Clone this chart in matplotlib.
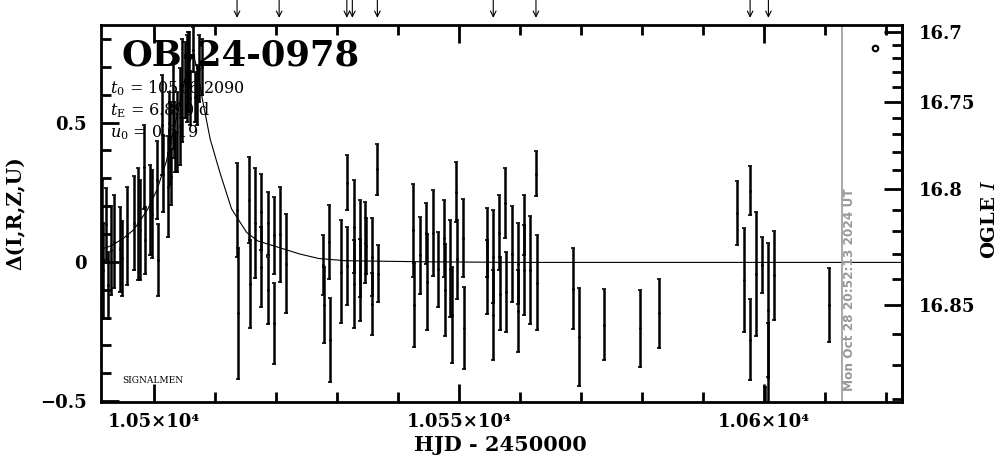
import numpy as np
import matplotlib
matplotlib.use("Agg")
import matplotlib.pyplot as plt
from matplotlib.ticker import MultipleLocator, FuncFormatter, FixedLocator

# photometry: HJD-2450000, Delta, error
hjd = [10491.5, 10491.7, 10492.2, 10492.5, 10493.0, 10493.5, 10494.4, 10494.7, 10495.5,
       10496.7, 10497.4, 10497.7, 10498.4, 10498.5, 10499.3, 10499.6, 10500.4, 10500.6,
       10501.3, 10501.5, 10502.3, 10502.5, 10502.6, 10502.8, 10503.1, 10503.3, 10503.5,
       10503.7, 10504.3, 10504.5, 10505.1, 10505.4, 10505.5, 10505.8, 10505.9, 10506.3,
       10506.7, 10507.0, 10507.3, 10507.8,
       10513.6, 10513.7, 10515.6, 10515.7, 10516.6, 10517.5, 10517.6, 10518.6, 10518.7,
       10519.6, 10519.7, 10520.7, 10521.6,
       10527.7, 10527.8, 10528.7, 10528.9, 10530.7, 10531.6, 10531.7, 10532.7, 10532.8,
       10533.7, 10533.8, 10534.6, 10534.8, 10535.7, 10535.8, 10536.6, 10536.7,
       10542.5, 10542.6, 10543.6, 10544.6, 10544.7, 10545.7, 10546.6, 10547.6, 10547.7,
       10548.5, 10548.8, 10549.5, 10549.6, 10550.7, 10550.8,
       10554.5, 10554.6, 10555.5, 10555.6, 10556.6, 10556.7, 10557.5, 10557.7, 10558.6,
       10559.6, 10559.7, 10560.6, 10560.7, 10561.6, 10562.6, 10562.7,
       10568.7, 10569.7, 10573.7, 10579.7, 10582.8,
       10595.6, 10596.7, 10597.7, 10597.75, 10598.7, 10599.7, 10600.2, 10600.6, 10600.7,
       10601.6, 10610.7]
delta = [0.096, -0.03, 0.135, -0.084, 0.042, 0.072, 0.045, 0.013, 0.093,
         0.139, 0.135, 0.114, 0.34, 0.078, 0.186, 0.171, 0.293, 0.006,
         0.49, 0.317, 0.27, 0.50, 0.425, 0.304, 0.562, 0.473, 0.394,
         0.467, 0.52, 0.616, 0.652, 0.657, 0.682, 0.724, 0.588, 0.762,
         0.591, 0.598, 0.693, 0.699,
         0.185, -0.185, 0.221, -0.08, 0.138, 0.179, -0.018, 0.138, -0.102,
         0.096, -0.221, 0.099, -0.006,
         -0.012, -0.155, 0.072, -0.281, -0.036, 0.284, -0.015, 0.126, -0.08,
         0.048, -0.066, 0.069, 0.057, 0.016, -0.152, 0.332, -0.042,
         0.114, -0.155, 0.024, 0.102, -0.072, 0.103, -0.027, 0.084, -0.102,
         -0.024, -0.191, 0.251, 0.009, 0.085, -0.238,
         0.069, -0.054, 0.018, -0.191, 0.105, -0.114, 0.21, -0.108, 0.028,
         -0.006, -0.176, 0.132, -0.03, -0.029, 0.317, -0.075,
         -0.096, -0.269, -0.226, -0.239, -0.185,
         0.174, -0.066, 0.256, -0.28, -0.043, -0.012, -0.65, -0.173, -0.418,
         -0.048, -0.155]
err = [0.197, 0.17, 0.13, 0.12, 0.16, 0.167, 0.152, 0.134, 0.176,
       0.17, 0.2, 0.18, 0.15, 0.12, 0.161, 0.158, 0.14, 0.13,
       0.18, 0.137, 0.18, 0.108, 0.15, 0.1, 0.156, 0.1, 0.072,
       0.144, 0.174, 0.185, 0.137, 0.156, 0.144, 0.1, 0.096, 0.081,
       0.09, 0.108, 0.12, 0.1,
       0.168, 0.236, 0.155, 0.158, 0.197, 0.138, 0.144, 0.114, 0.12,
       0.138, 0.144, 0.171, 0.179,
       0.108, 0.137, 0.132, 0.15, 0.185, 0.099, 0.141, 0.167, 0.158,
       0.173, 0.147, 0.146, 0.1, 0.14, 0.111, 0.092, 0.102,
       0.167, 0.15, 0.138, 0.108, 0.173, 0.155, 0.135, 0.138, 0.165,
       0.174, 0.173, 0.108, 0.141, 0.139, 0.148,
       0.123, 0.132, 0.167, 0.161, 0.135, 0.132, 0.126, 0.144, 0.172,
       0.144, 0.147, 0.108, 0.161, 0.193, 0.081, 0.17,
       0.144, 0.175, 0.127, 0.137, 0.124,
       0.115, 0.187, 0.088, 0.145, 0.223, 0.1, 0.2, 0.24, 0.2,
       0.16, 0.132]

# model light curve
model_t = [10491.3, 10493.0, 10495.0, 10496.6, 10497.4, 10499.0, 10500.5, 10502.0,
           10503.5, 10504.8, 10505.8, 10506.5, 10507.2, 10507.8, 10509.2, 10510.8,
           10512.7, 10514.1, 10515.2, 10517.0, 10520.1, 10523.9, 10527.0, 10531.4,
           10545.0, 10560.0, 10622.6]
model_d = [0.045, 0.058, 0.085, 0.114, 0.138, 0.19, 0.26, 0.36,
           0.50, 0.63, 0.72, 0.74, 0.68, 0.597, 0.44, 0.32,
           0.19, 0.142, 0.105, 0.075, 0.054, 0.028, 0.012, 0.004,
           0.0, -0.002, -0.002]

arrow_t = [10513.6, 10520.5, 10531.6, 10532.5, 10536.6, 10555.6, 10562.6, 10597.7, 10600.7]
now_t = 10612.7

mag_ticks = [16.7, 16.75, 16.8, 16.85]
params = [r"$t_0$ = 10506.2090", r"$t_{\rm E}$ = 6.890 d", r"$u_0$ = 0.619"]

# Delta <-> OGLE I mapping of the right axis
MAG_C, MAG_A, MAG_B = 16.98, 2.454, 1.279


def d2m(d):
    return MAG_C - np.exp((np.asarray(d, float) - MAG_A) / MAG_B)


def m2d(m):
    return MAG_A + MAG_B * np.log(np.clip(MAG_C - np.asarray(m, float), 1e-6, None))


plt.rcParams["font.family"] = ["DejaVu Serif"]
plt.rcParams["mathtext.fontset"] = "dejavuserif"

fig = plt.figure(figsize=(10.04, 4.59), dpi=100)
ax = fig.add_axes([101 / 1004, 57 / 459, 801 / 1004, 377 / 459])

ax.errorbar(hjd, delta, yerr=err, fmt=".", ms=2, color="black", ecolor="black",
            elinewidth=1.8, capsize=1.5, capthick=1.2)
ax.plot(model_t, model_d, color="black", lw=0.8)
ax.axvline(now_t, color="#999999", lw=1.2)

ax.set_xlim(10491.3, 10622.6)
ax.set_ylim(-0.503, 0.85)

for s in ax.spines.values():
    s.set_linewidth(2)

ax.xaxis.set_major_locator(MultipleLocator(50))
ax.xaxis.set_minor_locator(MultipleLocator(10))
ax.xaxis.set_major_formatter(FuncFormatter(lambda v, p: f"{v / 1e4:g}×10⁴"))
ax.yaxis.set_major_locator(MultipleLocator(0.5))
ax.yaxis.set_minor_locator(MultipleLocator(0.1))
ax.yaxis.set_major_formatter(FuncFormatter(lambda v, p: f"{v:g}".replace("-", "−")))
ax.tick_params(which="both", direction="in", top=True, right=False, width=2)
ax.tick_params(which="major", length=13)
ax.tick_params(which="minor", length=7)
ax.tick_params(axis="x", pad=8, labelsize=13)
ax.tick_params(axis="y", pad=10, labelsize=13)
for lab in ax.get_xticklabels() + ax.get_yticklabels():
    lab.set_fontweight("bold")

sec = ax.secondary_yaxis("right", functions=(d2m, m2d))
sec.yaxis.set_major_locator(FixedLocator(mag_ticks))
sec.yaxis.set_minor_locator(MultipleLocator(0.01))
sec.yaxis.set_major_formatter(FuncFormatter(lambda v, p: f"{v:g}"))
sec.spines["right"].set_linewidth(2)
sec.tick_params(which="both", direction="in", width=2, labelsize=13, pad=12)
sec.tick_params(which="major", length=13)
sec.tick_params(which="minor", length=7)
for lab in sec.get_yticklabels():
    lab.set_fontweight("bold")

ax.text(0.498, -0.114, "HJD - 2450000", transform=ax.transAxes, ha="center", va="center",
        fontsize=15, fontweight="bold")
ax.text(-0.107, 0.5, "Δ(I,R,Z,U)", transform=ax.transAxes, rotation=90,
        ha="center", va="center", fontsize=14.5, fontweight="bold")
ax.text(1.11, 0.483, "OGLE $\\mathbf{\\mathit{I}}$", transform=ax.transAxes, rotation=90,
        ha="center", va="center", fontsize=14, fontweight="bold")

ax.text(0.026, 0.92, "OB-24-0978", transform=ax.transAxes, ha="left", va="center",
        fontsize=25.5, fontweight="bold")
for i, s in enumerate(params):
    ax.text(0.011, 0.833 - i * 0.059, s, transform=ax.transAxes, ha="left", va="center",
            fontsize=11.5)
ax.text(0.026, 0.058, "SIGNALMEN", transform=ax.transAxes, ha="left", va="center",
        fontsize=6.5)
ax.plot([0.966], [0.939], "o", mfc="none", mec="black", mew=1.5, ms=4, transform=ax.transAxes)
ax.text(0.934, 0.029, "Mon Oct 28 20:52:13 2024 UT", transform=ax.transAxes, rotation=90,
        ha="center", va="bottom", fontsize=8.7, fontweight="bold", color="#999999",
        family="DejaVu Sans")

xt = ax.get_xaxis_transform()
for t in arrow_t:
    ax.annotate("", xy=(t, 1.019), xytext=(t, 1.068), xycoords=xt, textcoords=xt,
                arrowprops=dict(arrowstyle="->", lw=0.8, color="black",
                                shrinkA=0, shrinkB=0), annotation_clip=False)

fig.savefig("out.png", dpi=100)
